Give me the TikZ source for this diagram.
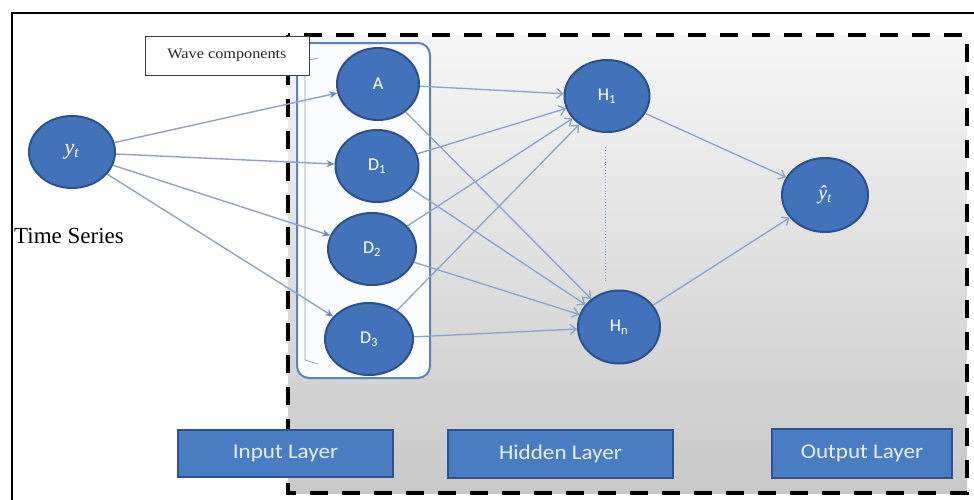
\documentclass[tikz,border=0pt]{standalone}
\usepackage{fontspec}
\setmainfont{Liberation Serif}
\newfontfamily\calib{Carlito}
\usetikzlibrary{shapes.geometric,arrows.meta}
\definecolor{nodefill}{RGB}{66,114,186}
\definecolor{nodeedge}{RGB}{44,80,140}
\definecolor{boxfill}{RGB}{74,124,194}
\definecolor{boxedge}{RGB}{47,82,143}
\definecolor{conncol}{RGB}{140,162,200}
\definecolor{inconn}{RGB}{112,138,182}
\definecolor{bracket}{RGB}{92,130,192}
\definecolor{txtlight}{RGB}{230,238,250}
\definecolor{innerline}{RGB}{150,160,175}
\definecolor{grouptint}{RGB}{250,252,255}
\definecolor{shadetop}{RGB}{246,246,246}
\definecolor{shadebot}{RGB}{200,200,200}
\definecolor{wcedge}{RGB}{60,60,60}
\definecolor{wctext}{RGB}{40,40,40}
\tikzset{
  neuron/.style={ellipse, fill=nodefill, draw=nodeedge, line width=2pt, inner sep=0pt,
    text=white, font=\calib\fontsize{18}{18}\selectfont},
  layerbox/.style={rectangle, fill=boxfill, draw=boxedge, line width=2pt, inner sep=0pt,
    text=txtlight, font=\calib\fontsize{21}{21}\selectfont},
  conn/.style={draw=conncol, line width=1.3pt, -{Straight Barb[length=6pt,width=10pt]}},
  inarrow/.style={draw=conncol, line width=1.4pt, -{Stealth[length=8pt,width=7pt,color=inconn]}},
}
\begin{document}
\begin{tikzpicture}[x=1pt,y=-1pt]
\useasboundingbox (0,0) rectangle (974,499);
% outer frame
\draw[black, line width=2pt] (12,505) -- (12,13) -- (980,13);
% dashed region
\fill[top color=shadetop, bottom color=shadebot] (288,35) rectangle (967,493);
\draw[black, line width=3.5pt, dash pattern=on 18pt off 14pt] (288,35) rectangle (967,493);
% wave components group
\draw[draw=bracket, line width=2pt, fill=grouptint, rounded corners=12pt] (297,43) rectangle (430,378);
\draw[draw=innerline, line width=0.8pt] (318,58) -- (305,61) -- (305,360) -- (318,364);
% nodes
\node[neuron, minimum width=86pt, minimum height=72pt] (yt) at (72,152) {\rmfamily\itshape\fontsize{22}{22}\selectfont y\textsubscript{t}};
\node[neuron, minimum width=82pt, minimum height=72pt] (A) at (378,84) {A};
\node[neuron, minimum width=83pt, minimum height=72pt] (D1) at (377,166) {D\textsubscript{1}};
\node[neuron, minimum width=88pt, minimum height=72pt] (D2) at (372,249) {D\textsubscript{2}};
\node[neuron, minimum width=88pt, minimum height=72pt] (D3) at (369,339) {D\textsubscript{3}};
\node[neuron, minimum width=85pt, minimum height=72pt] (H1) at (607,96) {H\textsubscript{1}};
\node[neuron, minimum width=82pt, minimum height=73pt] (Hn) at (619,327) {H\textsubscript{n}};
\node[neuron, minimum width=86pt, minimum height=74pt] (yh) at (825,195) {\rmfamily\itshape\fontsize{20}{20}\selectfont ŷ\textsubscript{t}};
% connectors
\foreach \t in {A,D1,D2,D3} \draw[inarrow] (yt) -- (\t);
\foreach \s in {A,D1,D2,D3} {
  \draw[conn] (\s) -- (H1);
  \draw[conn] (\s) -- (Hn);
}
\draw[conn] (H1) -- (yh);
\draw[conn] (Hn) -- (yh);
\coordinate (dt) at (605,147);
\coordinate (db) at (605,282);
\draw[draw=conncol, line width=0.9pt, dotted] (dt) -- (db);
% labels
\node[anchor=west, font=\fontsize{23}{23}\selectfont, inner sep=0pt] (ts) at (14,236) {Time Series};
\node[draw=wcedge, line width=1pt, fill=white, minimum width=164pt, minimum height=39pt, inner sep=0pt,
  font=\fontsize{14.5}{14.5}\selectfont, text=wctext] (wc) at (227,55.5) {\scalebox{1.12}[1]{Wave components}};
\node[layerbox, minimum width=215pt, minimum height=47pt] (il) at (285.5,453.5) {\scalebox{1.1}[1]{Input Layer}};
\node[layerbox, minimum width=225pt, minimum height=48pt] (hl) at (560.5,454) {\scalebox{1.1}[1]{Hidden Layer}};
\node[layerbox, minimum width=180pt, minimum height=49pt] (ol) at (862,453.5) {\scalebox{1.1}[1]{Output Layer}};
\end{tikzpicture}
\end{document}
